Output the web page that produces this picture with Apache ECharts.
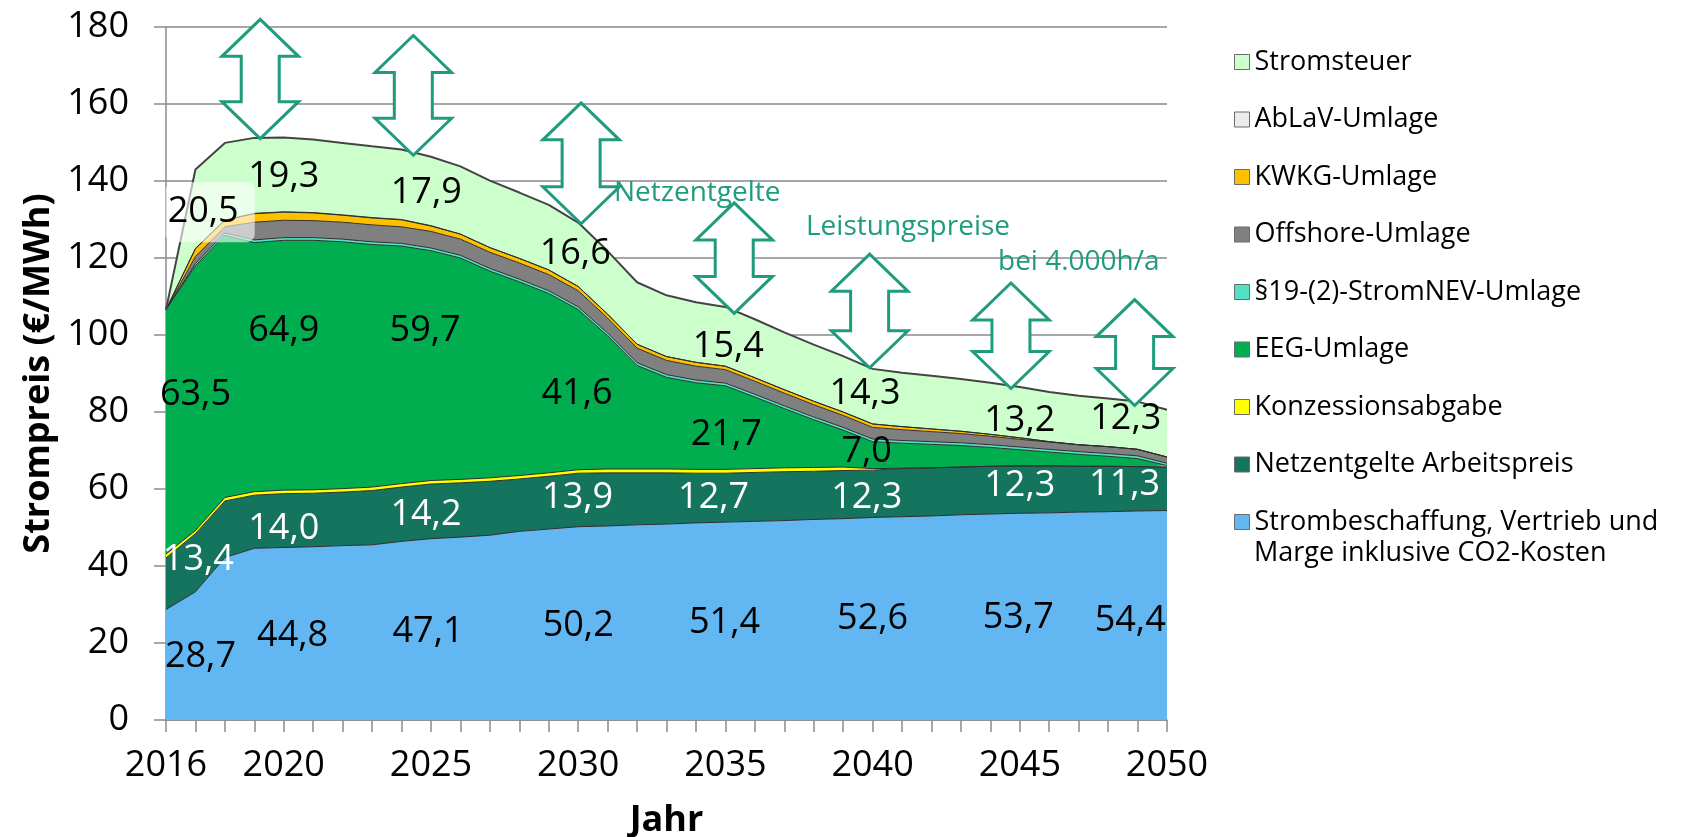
<!DOCTYPE html>
<html>
<head>
<meta charset="utf-8">
<title>Strompreis 2016–2050</title>
<script src="https://cdn.jsdelivr.net/npm/echarts@6/dist/echarts.min.js"></script>
<style>
  html, body { margin: 0; padding: 0; background: #ffffff; }
  #chart { width: 1688px; height: 837px; }
</style>
</head>
<body>
<div id="chart"></div>
<script>
// Jahre der Zeitreihe
const years = [2016, 2017, 2018, 2019, 2020, 2021, 2022, 2023, 2024, 2025, 2026, 2027,
  2028, 2029, 2030, 2031, 2032, 2033, 2034, 2035, 2036, 2037, 2038, 2039, 2040, 2041,
  2042, 2043, 2044, 2045, 2046, 2047, 2048, 2049, 2050];

// Preisbestandteile in €/MWh, von unten nach oben gestapelt
const strombeschaffung = [28.7, 33.3, 42.2, 44.6, 44.8, 45.0, 45.3, 45.5, 46.4, 47.1, 47.5, 48.0,
  49.0, 49.6, 50.2, 50.4, 50.7, 50.9, 51.2, 51.4, 51.6, 51.8, 52.1, 52.3, 52.6, 52.8,
  53.0, 53.3, 53.5, 53.7, 53.8, 54.0, 54.1, 54.3, 54.4];
const netzArbeitspreis = [13.4, 15.1, 14.7, 13.8, 14.0, 13.9, 13.9, 14.1, 14.1, 14.2, 14.1, 14.0,
  13.6, 13.7, 13.9, 13.8, 13.5, 13.3, 12.9, 12.7, 12.7, 12.7, 12.5, 12.5, 12.3, 12.5,
  12.5, 12.4, 12.4, 12.3, 12.2, 11.9, 11.8, 11.5, 11.3];
const konzession = [1.0, 0.8, 0.9, 0.9, 0.9, 0.9, 0.9, 0.9, 0.9, 0.9, 0.9, 0.9,
  0.9, 0.9, 0.9, 1.0, 1.0, 1.0, 1.0, 1.0, 1.0, 1.0, 1.0, 0.9, 0.4, 0.1,
  0, 0, 0, 0, 0, 0, 0, 0, 0];
const eeg = [63.5, 68.8, 68.1, 64.7, 64.9, 64.8, 64.1, 63.0, 61.7, 59.7, 57.5, 53.7,
  50.3, 46.6, 41.6, 34.6, 26.9, 23.8, 22.5, 21.7, 18.6, 15.4, 12.4, 9.6, 7.0, 6.5,
  6.1, 5.6, 4.9, 4.2, 3.6, 3.1, 2.6, 2.1, 0.4];
const stromNev = [0, 0.6, 0.6, 0.7, 0.7, 0.7, 0.7, 0.7, 0.7, 0.7, 0.7, 0.7,
  0.7, 0.7, 0.7, 0.7, 0.7, 0.7, 0.7, 0.7, 0.7, 0.7, 0.7, 0.7, 0.7, 0.7,
  0.7, 0.7, 0.7, 0.7, 0.7, 0.7, 0.7, 0.7, 0.6];
const offshore = [0, 1.8, 1.6, 4.6, 4.5, 4.4, 4.4, 4.4, 4.3, 4.3, 4.2, 4.2,
  4.2, 4.2, 4.2, 3.9, 3.8, 3.7, 3.6, 3.5, 3.4, 3.3, 3.2, 3.1, 3.0, 2.8,
  2.6, 2.4, 2.2, 2.0, 1.9, 1.8, 1.8, 1.7, 1.6];
const kwkg = [0, 2.0, 1.7, 2.2, 2.1, 2.0, 1.8, 1.8, 1.8, 1.4, 1.3, 1.2,
  1.2, 1.2, 1.1, 1.0, 1.0, 1.0, 1.0, 0.9, 0.9, 0.9, 0.9, 0.9, 0.9, 0.8,
  0.7, 0.6, 0.5, 0.4, 0.1, 0, 0, 0, 0];
const ablav = [0, 0.1, 0.1, 0.1, 0.1, 0.1, 0.1, 0.1, 0.1, 0.1, 0, 0,
  0, 0, 0, 0, 0, 0, 0, 0, 0, 0, 0, 0, 0, 0,
  0, 0, 0, 0, 0, 0, 0, 0, 0];
const stromsteuer = [0, 20.5, 20.0, 19.6, 19.3, 19.0, 18.7, 18.5, 18.2, 17.9, 17.6, 17.4,
  17.1, 16.9, 16.6, 16.4, 16.1, 15.9, 15.6, 15.4, 15.2, 14.9, 14.7, 14.5, 14.3, 14.0,
  13.8, 13.6, 13.4, 13.2, 12.9, 12.7, 12.5, 12.4, 12.3];

// Beschriftete Jahre der x-Achse
const yearTicks = [2016, 2020, 2025, 2030, 2035, 2040, 2045, 2050];

// Doppelpfeile "Netzentgelte Leistungspreise": Lage (Jahr) sowie untere und obere Spitze in €/MWh
const arrowYears = [2019.2, 2024.4, 2030.1, 2035.3, 2039.9, 2044.7, 2048.9];
const arrowLow = [151.0, 146.7, 128.9, 105.6, 91.5, 86.1, 81.7];
const arrowHigh = [182.0, 177.8, 160.3, 134.3, 121.0, 113.5, 109.2];

const FONT = '"Open Sans", "Noto Sans", "DejaVu Sans", sans-serif';
const TEAL = '#1f9b7d';
const GRID_GRAY = '#8a8a8a';

const layers = [
  { name: 'Strombeschaffung, Vertrieb und Marge inklusive CO2-Kosten', data: strombeschaffung, color: '#62b6f2' },
  { name: 'Netzentgelte Arbeitspreis', data: netzArbeitspreis, color: '#14745d' },
  { name: 'Konzessionsabgabe', data: konzession, color: '#ffff00' },
  { name: 'EEG-Umlage', data: eeg, color: '#00ae4f' },
  { name: '§19-(2)-StromNEV-Umlage', data: stromNev, color: '#50e2c2' },
  { name: 'Offshore-Umlage', data: offshore, color: '#808080' },
  { name: 'KWKG-Umlage', data: kwkg, color: '#ffc000' },
  { name: 'AbLaV-Umlage', data: ablav, color: '#ececec' },
  { name: 'Stromsteuer', data: stromsteuer, color: '#ccffcc' }
];
const L = { beschaffung: 0, netz: 1, eeg: 3, steuer: 8 };

// Wertbeschriftungen: Schicht, Jahresindex, Platz in Achsenkoordinaten
const valueLabels = [
  { layer: L.steuer, idx: 1, x: 2017.5, y: 131.9, color: '#000', box: true },
  { layer: L.steuer, idx: 4, x: 2020.0, y: 141.0, color: '#000' },
  { layer: L.steuer, idx: 9, x: 2024.84, y: 137.0, color: '#000' },
  { layer: L.steuer, idx: 14, x: 2029.9, y: 121.1, color: '#000' },
  { layer: L.steuer, idx: 19, x: 2035.1, y: 96.9, color: '#000' },
  { layer: L.steuer, idx: 24, x: 2039.74, y: 84.7, color: '#000' },
  { layer: L.steuer, idx: 29, x: 2045.0, y: 77.7, color: '#000' },
  { layer: L.steuer, idx: 34, x: 2048.6, y: 78.2, color: '#000' },
  { layer: L.eeg, idx: 0, x: 2017.0, y: 84.6, color: '#000' },
  { layer: L.eeg, idx: 4, x: 2020.0, y: 101.2, color: '#000' },
  { layer: L.eeg, idx: 9, x: 2024.8, y: 101.2, color: '#000' },
  { layer: L.eeg, idx: 14, x: 2029.96, y: 84.8, color: '#000' },
  { layer: L.eeg, idx: 19, x: 2035.03, y: 74.0, color: '#000' },
  { layer: L.eeg, idx: 24, x: 2039.8, y: 69.6, color: '#000' },
  { layer: L.netz, idx: 0, x: 2017.1, y: 41.5, color: '#fff' },
  { layer: L.netz, idx: 4, x: 2020.0, y: 49.7, color: '#fff' },
  { layer: L.netz, idx: 9, x: 2024.83, y: 53.4, color: '#fff' },
  { layer: L.netz, idx: 14, x: 2029.98, y: 57.8, color: '#fff' },
  { layer: L.netz, idx: 19, x: 2034.6, y: 57.8, color: '#fff' },
  { layer: L.netz, idx: 24, x: 2039.8, y: 57.8, color: '#fff' },
  { layer: L.netz, idx: 29, x: 2045.0, y: 60.8, color: '#fff' },
  { layer: L.netz, idx: 34, x: 2048.56, y: 61.2, color: '#fff' },
  { layer: L.beschaffung, idx: 0, x: 2017.17, y: 16.4, color: '#000' },
  { layer: L.beschaffung, idx: 4, x: 2020.3, y: 21.8, color: '#000' },
  { layer: L.beschaffung, idx: 9, x: 2024.9, y: 22.9, color: '#000' },
  { layer: L.beschaffung, idx: 14, x: 2030.0, y: 24.4, color: '#000' },
  { layer: L.beschaffung, idx: 19, x: 2034.97, y: 25.3, color: '#000' },
  { layer: L.beschaffung, idx: 24, x: 2040.0, y: 26.2, color: '#000' },
  { layer: L.beschaffung, idx: 29, x: 2044.95, y: 26.6, color: '#000' },
  { layer: L.beschaffung, idx: 34, x: 2048.75, y: 25.9, color: '#000' }
];

const fmt = v => v.toFixed(1).replace('.', ',');
const LONG_NAME = layers[0].name;

// Gestapelte Flächen auf der Kategorienachse (Jahre)
const areaSeries = layers.map((l, k) => ({
  name: l.name,
  type: 'line',
  stack: 'preis',
  xAxisIndex: 0,
  yAxisIndex: 0,
  data: l.data,
  symbol: 'none',
  showSymbol: false,
  itemStyle: { color: l.color },
  lineStyle: k === layers.length - 1
    ? { color: '#444444', width: 2 }
    : { color: '#2e2e2e', width: 1 },
  areaStyle: { color: l.color, opacity: 1 },
  emphasis: { disabled: true },
  silent: true,
  z: 2
}));

// Doppelpfeile auf der unsichtbaren Werteachse (gleiche Spannweite 2016–2050)
const arrowSeries = {
  type: 'custom',
  name: 'pfeile',
  xAxisIndex: 1,
  yAxisIndex: 0,
  data: arrowYears.map((x, i) => [x, arrowLow[i], arrowHigh[i]]),
  encode: { x: 0, y: [1, 2] },
  clip: false,
  silent: true,
  z: 4,
  renderItem: (params, api) => {
    const b = api.coord([api.value(0), api.value(1)]);
    const t = api.coord([api.value(0), api.value(2)]);
    const cx = b[0], yb = b[1], yt = t[1];
    const hw = 38.3, sw = 19, hh = 37;
    const pts = [
      [cx, yt], [cx + hw, yt + hh], [cx + sw, yt + hh], [cx + sw, yb - hh],
      [cx + hw, yb - hh], [cx, yb], [cx - hw, yb - hh], [cx - sw, yb - hh],
      [cx - sw, yt + hh], [cx - hw, yt + hh]
    ];
    return {
      type: 'polygon',
      shape: { points: pts },
      style: { fill: '#ffffff', stroke: TEAL, lineWidth: 3, lineJoin: 'miter' }
    };
  }
};

const labelSeries = {
  type: 'custom',
  name: 'werte',
  xAxisIndex: 1,
  yAxisIndex: 0,
  data: valueLabels.map(l => [l.x, l.y]),
  encode: { x: 0, y: 1 },
  clip: false,
  silent: true,
  z: 5,
  renderItem: (params, api) => {
    const spec = valueLabels[params.dataIndex];
    const p = api.coord([api.value(0), api.value(1)]);
    const style = {
      text: fmt(layers[spec.layer].data[spec.idx]),
      fill: spec.color,
      fontSize: 36,
      fontFamily: FONT,
      align: 'center',
      verticalAlign: 'middle'
    };
    if (spec.box) {
      style.backgroundColor = 'rgba(255,255,255,0.6)';
      style.padding = [12, 16, 12, 2];
      style.borderRadius = 8;
    }
    return { type: 'text', x: p[0], y: p[1], style };
  }
};

const chart = echarts.init(document.getElementById('chart'), null, { renderer: 'canvas' });

chart.setOption({
  animation: false,
  backgroundColor: '#ffffff',
  textStyle: { fontFamily: FONT },
  grid: { left: 166, right: 521, top: 27, bottom: 117, containLabel: false, outerBoundsMode: 'none' },
  legend: {
    orient: 'vertical',
    left: 1234,
    top: 47,
    padding: 0,
    itemWidth: 15,
    itemHeight: 15,
    itemGap: 27.5,
    icon: 'rect',
    selectedMode: false,
    itemStyle: { borderColor: '#6b6b6b', borderWidth: 1 },
    textStyle: { fontSize: 27, lineHeight: 30, color: '#000', fontFamily: FONT },
    data: layers.map(l => l.name).reverse(),
    formatter: name => name === LONG_NAME ? 'Strombeschaffung, Vertrieb und' : name
  },
  xAxis: [
    {
      type: 'category',
      data: years.map(String),
      boundaryGap: false,
      name: 'Jahr',
      nameLocation: 'middle',
      nameGap: 83,
      nameTextStyle: { fontSize: 36, fontWeight: 'bold', color: '#000', fontFamily: FONT },
      axisLine: { show: true, lineStyle: { color: GRID_GRAY, width: 1.5 } },
      axisTick: { show: true, interval: 0, length: 12, lineStyle: { color: GRID_GRAY, width: 1.5 } },
      splitLine: { show: false },
      axisLabel: {
        show: true,
        interval: (index, value) => yearTicks.includes(Number(value)),
        margin: 46,
        verticalAlign: 'middle',
        fontSize: 36,
        color: '#000',
        fontFamily: FONT
      }
    },
    {
      type: 'value',
      min: 2016,
      max: 2050,
      show: false,
      splitLine: { show: false }
    }
  ],
  yAxis: {
    type: 'value',
    min: 0,
    max: 180,
    interval: 20,
    name: 'Strompreis (€/MWh)',
    nameLocation: 'middle',
    nameGap: 103,
    nameTextStyle: { fontSize: 36, fontWeight: 'bold', color: '#000', fontFamily: FONT },
    axisLine: { show: true, lineStyle: { color: GRID_GRAY, width: 1.5 } },
    axisTick: { show: true, length: 12, lineStyle: { color: GRID_GRAY, width: 1.5 } },
    splitLine: { show: true, lineStyle: { color: GRID_GRAY, width: 1.5 } },
    axisLabel: { margin: 37, fontSize: 36, color: '#000', fontFamily: FONT }
  },
  series: [...areaSeries, arrowSeries, labelSeries],
  graphic: [
    { type: 'text', x: 614, y: 193, z: 10, silent: true,
      style: { text: 'Netzentgelte', fill: TEAL, fontSize: 28, fontFamily: FONT, align: 'left', verticalAlign: 'middle' } },
    { type: 'text', x: 806, y: 227, z: 10, silent: true,
      style: { text: 'Leistungspreise', fill: TEAL, fontSize: 28, fontFamily: FONT, align: 'left', verticalAlign: 'middle' } },
    { type: 'text', x: 998, y: 262, z: 10, silent: true,
      style: { text: 'bei 4.000h/a', fill: TEAL, fontSize: 28, fontFamily: FONT, align: 'left', verticalAlign: 'middle' } },
    { type: 'text', x: 1254, y: 553, z: 10, silent: true,
      style: { text: 'Marge inklusive CO2-Kosten', fill: '#000', fontSize: 27, fontFamily: FONT, align: 'left', verticalAlign: 'middle' } }
  ]
});
</script>
</body>
</html>
